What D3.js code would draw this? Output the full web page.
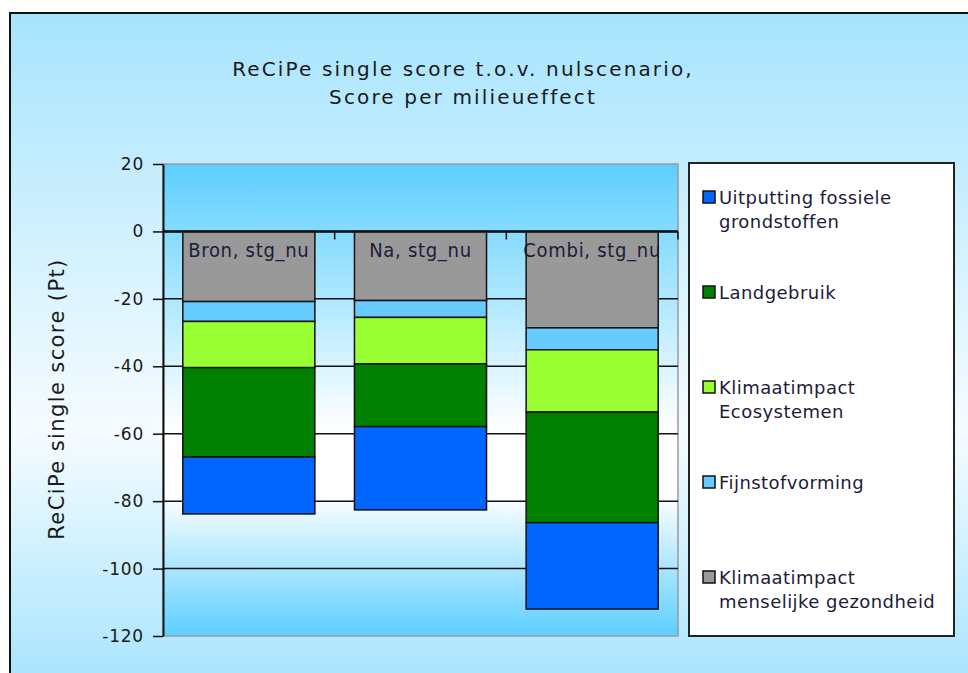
<!DOCTYPE html>
<html>
<head>
<meta charset="utf-8">
<script src="https://cdn.jsdelivr.net/npm/d3@7"></script>
<style>
  body { margin: 0; background: #fff; }
  svg text { font-family: "DejaVu Sans", sans-serif; }
</style>
</head>
<body>
<div id="chart"></div>
<script>
// chart data
var categories = ["Bron, stg_nu", "Na, stg_nu", "Combi, stg_nu"];
var legendNames = ["Uitputting fossiele grondstoffen", "Landgebruik", "Klimaatimpact Ecosystemen", "Fijnstofvorming", "Klimaatimpact menselijke gezondheid"];
var legendLines = [["Uitputting fossiele", "grondstoffen"], ["Landgebruik"], ["Klimaatimpact", "Ecosystemen"], ["Fijnstofvorming"], ["Klimaatimpact", "menselijke gezondheid"]];
var fossiel = [-16.9, -24.7, -25.6];
var landgebruik = [-26.5, -18.6, -32.8];
var klimaatEco = [-13.7, -13.8, -18.5];
var fijnstof = [-5.9, -5.0, -6.5];
var klimaatMens = [-20.8, -20.5, -28.6];
var yTicks = [20, 0, -20, -40, -60, -80, -100, -120];
var colors = ["#0066ff", "#008000", "#99ff33", "#66ccff", "#999999"];

var seriesValues = [fossiel, landgebruik, klimaatEco, fijnstof, klimaatMens];

var W = 968, H = 673;
var svg = d3.select("#chart").append("svg")
    .attr("width", W)
    .attr("height", H);

var defs = svg.append("defs");
var outerGrad = defs.append("linearGradient")
    .attr("id", "outerGrad").attr("x1", 0).attr("y1", 0).attr("x2", 0).attr("y2", 1);
outerGrad.append("stop").attr("offset", "0%").attr("stop-color", "#a6e4fe");
outerGrad.append("stop").attr("offset", "62%").attr("stop-color", "#f6fcff");
outerGrad.append("stop").attr("offset", "100%").attr("stop-color", "#a6e4fe");

var plotGrad = defs.append("linearGradient")
    .attr("id", "plotGrad").attr("x1", 0).attr("y1", 0).attr("x2", 0).attr("y2", 1);
plotGrad.append("stop").attr("offset", "0%").attr("stop-color", "#5ccfff");
plotGrad.append("stop").attr("offset", "56%").attr("stop-color", "#ffffff");
plotGrad.append("stop").attr("offset", "70%").attr("stop-color", "#ffffff");
plotGrad.append("stop").attr("offset", "100%").attr("stop-color", "#5ccfff");

// outer chart frame
svg.append("rect")
    .attr("x", 10).attr("y", 13)
    .attr("width", W).attr("height", H)
    .attr("fill", "url(#outerGrad)")
    .attr("stroke", "#111")
    .attr("stroke-width", 2);

// title
var title = svg.append("text")
    .attr("text-anchor", "middle")
    .attr("font-size", 20)
    .attr("letter-spacing", 2.15)
    .attr("fill", "#1a1a1a");
title.append("tspan").attr("x", 463).attr("y", 76).text("ReCiPe single score t.o.v. nulscenario,");
title.append("tspan").attr("x", 463).attr("y", 104).text("Score per milieueffect");

var plot = {left: 163, right: 678, top: 164, bottom: 636};

var x = d3.scaleBand()
    .domain(categories)
    .range([plot.left, plot.right])
    .paddingInner(0.3 / 1.3)
    .paddingOuter(0.15 / 1.3);

var y = d3.scaleLinear()
    .domain([-120, 20])
    .range([plot.bottom, plot.top]);

// plot area
svg.append("rect")
    .attr("x", plot.left).attr("y", plot.top)
    .attr("width", plot.right - plot.left)
    .attr("height", plot.bottom - plot.top)
    .attr("fill", "url(#plotGrad)")
    .attr("stroke", "#9a9a9a")
    .attr("stroke-width", 1.5);

// gridlines
svg.append("g")
  .selectAll("line")
  .data(yTicks.filter(function(d) { return d < 20 && d > -120; }))
  .enter()
  .append("line")
    .attr("x1", plot.left).attr("x2", plot.right)
    .attr("y1", function(d) { return y(d); })
    .attr("y2", function(d) { return y(d); })
    .attr("stroke", "#111")
    .attr("stroke-width", 1.5);

// stacked bars: gray (last legend entry) sits next to zero
var rows = categories.map(function(c, i) {
  var r = {cat: c};
  legendNames.forEach(function(n, j) { r[n] = seriesValues[j][i]; });
  return r;
});
var stack = d3.stack()
    .keys(legendNames.slice().reverse())
    .offset(d3.stackOffsetDiverging);
var layers = stack(rows);

svg.append("g")
  .selectAll("g")
  .data(layers)
  .enter()
  .append("g")
    .attr("fill", function(d) { return colors[legendNames.indexOf(d.key)]; })
  .selectAll("rect")
  .data(function(d) { return d; })
  .enter()
  .append("rect")
    .attr("x", function(d) { return x(d.data.cat); })
    .attr("width", x.bandwidth())
    .attr("y", function(d) { return Math.min(y(d[0]), y(d[1])); })
    .attr("height", function(d) { return Math.abs(y(d[1]) - y(d[0])); })
    .attr("stroke", "#111")
    .attr("stroke-width", 1.5);

// category axis along zero
svg.append("line")
    .attr("x1", plot.left).attr("x2", plot.right)
    .attr("y1", y(0)).attr("y2", y(0))
    .attr("stroke", "#111")
    .attr("stroke-width", 2.5);
var step = x.step();
svg.append("g")
  .selectAll("line")
  .data(categories)
  .enter()
  .append("line")
    .attr("x1", function(d) { return x(d) - x.bandwidth() * 0.15 + step; })
    .attr("x2", function(d) { return x(d) - x.bandwidth() * 0.15 + step; })
    .attr("y1", y(0)).attr("y2", y(0) + 8)
    .attr("stroke", "#111")
    .attr("stroke-width", 1.5);

// category labels inside the gray blocks
svg.append("g")
  .selectAll("text")
  .data(categories)
  .enter()
  .append("text")
    .attr("x", function(d) { return x(d) + x.bandwidth() / 2; })
    .attr("y", y(0) + 26)
    .attr("text-anchor", "middle")
    .attr("font-size", 20)
    .attr("letter-spacing", 0.7)
    .style("font-family", "'DejaVu Sans Condensed', 'DejaVu Sans', sans-serif")
    .style("font-stretch", "condensed")
    .attr("fill", "#1c1c3a")
    .text(function(d) { return d; });

// y axis
var yAxis = svg.append("g")
    .attr("transform", "translate(" + plot.left + ",0)")
    .call(d3.axisLeft(y).tickValues(yTicks).tickSize(10).tickPadding(9).tickSizeOuter(0)
      .tickFormat(function(d) { return String(d); }));
yAxis.select(".domain").attr("stroke", "#111").attr("stroke-width", 2);
yAxis.selectAll(".tick line").attr("stroke", "#111").attr("stroke-width", 1.5);
yAxis.selectAll(".tick text")
    .attr("font-size", 17)
    .attr("letter-spacing", 0.8)
    .attr("fill", "#1a1a1a")
    .style("font-family", "'DejaVu Sans', sans-serif");

// y axis title
svg.append("text")
    .attr("transform", "translate(64,399) rotate(-90)")
    .attr("text-anchor", "middle")
    .attr("font-size", 21)
    .attr("letter-spacing", 1.4)
    .attr("fill", "#1a1a1a")
    .text("ReCiPe single score  (Pt)");

// legend
var legend = svg.append("g");
legend.append("rect")
    .attr("x", 689).attr("y", 163)
    .attr("width", 265).attr("height", 473)
    .attr("fill", "#fff")
    .attr("stroke", "#222")
    .attr("stroke-width", 2);

var legendY = d3.scalePoint()
    .domain(legendNames)
    .range([197, 577]);

var items = legend.selectAll("g.item")
  .data(legendNames)
  .enter()
  .append("g")
    .attr("class", "item")
    .attr("transform", function(d) { return "translate(703," + legendY(d) + ")"; });
items.append("rect")
    .attr("x", 0).attr("y", -6)
    .attr("width", 12).attr("height", 12)
    .attr("fill", function(d, i) { return colors[i]; })
    .attr("stroke", "#111")
    .attr("stroke-width", 1.5);
items.append("text")
    .attr("font-size", 18)
    .attr("letter-spacing", 0.45)
    .attr("fill", "#1c1c3a")
    .selectAll("tspan")
    .data(function(d, i) { return legendLines[i]; })
    .enter()
    .append("tspan")
      .attr("x", 16)
      .attr("y", function(d, k) { return 7 + k * 23.5; })
      .text(function(d) { return d; });
</script>
</body>
</html>
